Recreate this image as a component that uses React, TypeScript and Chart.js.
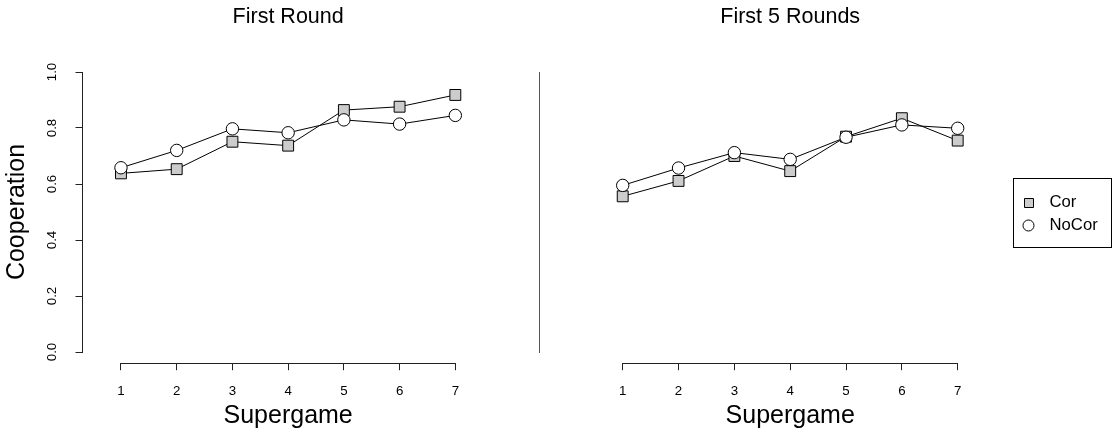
import React, { useEffect, useRef } from 'react';
import { Chart, registerables } from 'chart.js';

Chart.register(...registerables);

// ---- Data ----
const supergames = [1, 2, 3, 4, 5, 6, 7];
const firstRoundCor = [0.638, 0.653, 0.751, 0.737, 0.864, 0.876, 0.918];
const firstRoundNoCor = [0.658, 0.72, 0.797, 0.783, 0.829, 0.814, 0.845];
const first5Cor = [0.556, 0.611, 0.7, 0.646, 0.769, 0.835, 0.755];
const first5NoCor = [0.595, 0.657, 0.712, 0.688, 0.767, 0.811, 0.799];
const yTickValues = [0, 0.2, 0.4, 0.6, 0.8, 1.0];
const yTickLabels = ['0.0', '0.2', '0.4', '0.6', '0.8', '1.0'];
const seriesNames = ['Cor', 'NoCor'];
const panelTitles = ['First Round', 'First 5 Rounds'];
const xAxisTitle = 'Supergame';
const yAxisTitle = 'Cooperation';

const FONT = "'Liberation Sans', Arial, Helvetica, sans-serif";
const COR_FILL = '#cccccc';
const NOCOR_FILL = '#ffffff';
const INK = '#000000';

const toPoints = (vals: number[]) => supergames.map((s, i) => ({ x: s, y: vals[i] }));

// R-style axes, separator line and boxed legend
const rAxesPlugin = {
  id: 'rAxes',
  afterDraw(chart: any, _args: any, opts: any) {
    const { ctx, chartArea } = chart;
    const xs = chart.scales.x;
    const ys = chart.scales.y;
    const px = (v: number) => Math.round(v - 0.5) + 0.5;
    ctx.save();
    ctx.strokeStyle = opts.axisColor;
    ctx.lineWidth = 1;

    // x axis line from first to last tick
    const xb = px(chartArea.bottom);
    ctx.beginPath();
    ctx.moveTo(px(xs.getPixelForValue(supergames[0])) - 0.5, xb);
    ctx.lineTo(px(xs.getPixelForValue(supergames[supergames.length - 1])) + 0.5, xb);
    ctx.stroke();

    if (opts.yAxis) {
      const ax = px(chartArea.left - opts.yAxis.offset);
      const yTop = ys.getPixelForValue(yTickValues[yTickValues.length - 1]);
      const yBot = ys.getPixelForValue(yTickValues[0]);
      ctx.beginPath();
      ctx.moveTo(ax, px(yBot) + 0.5);
      ctx.lineTo(ax, px(yTop) - 0.5);
      ctx.stroke();
      ctx.beginPath();
      yTickValues.forEach((v) => {
        const y = px(ys.getPixelForValue(v));
        ctx.moveTo(ax - opts.yAxis.tickLength, y);
        ctx.lineTo(ax, y);
      });
      ctx.stroke();
      ctx.fillStyle = INK;
      ctx.font = `${opts.yAxis.fontSize}px ${FONT}`;
      ctx.textAlign = 'center';
      ctx.textBaseline = 'middle';
      yTickValues.forEach((v, i) => {
        const y = ys.getPixelForValue(v);
        ctx.save();
        ctx.translate(ax - opts.yAxis.labelOffset, y);
        ctx.rotate(-Math.PI / 2);
        ctx.fillText(yTickLabels[i], 0, 0);
        ctx.restore();
      });
    }

    if (opts.separator) {
      const sx = px(chartArea.left - opts.separator.offset);
      ctx.strokeStyle = opts.separator.color;
      ctx.beginPath();
      ctx.moveTo(sx, px(ys.getPixelForValue(yTickValues[0])) + 0.5);
      ctx.lineTo(sx, px(ys.getPixelForValue(yTickValues[yTickValues.length - 1])) - 0.5);
      ctx.stroke();
    }

    if (opts.legend) {
      const L = opts.legend;
      const cy = (chartArea.top + chartArea.bottom) / 2;
      const bx = Math.round(chartArea.right + L.offset) + 0.5;
      const by = Math.round(cy - L.height / 2) + 0.5;
      ctx.strokeStyle = INK;
      ctx.strokeRect(bx, by, L.width, L.height);
      ctx.font = `${L.fontSize}px ${FONT}`;
      ctx.textAlign = 'left';
      ctx.textBaseline = 'middle';
      chart.data.datasets.forEach((ds: any, i: number) => {
        const ry = by + L.firstRow + i * L.rowGap;
        const sxm = bx + L.symbolX;
        ctx.fillStyle = ds.pointBackgroundColor;
        ctx.strokeStyle = ds.pointBorderColor;
        ctx.beginPath();
        if (ds.pointStyle === 'rect') {
          const h = L.squareSize / 2;
          ctx.rect(Math.round(sxm - h) + 0.5, Math.round(ry - h) + 0.5, L.squareSize, L.squareSize);
        } else {
          ctx.arc(sxm, ry, L.circleRadius, 0, Math.PI * 2);
        }
        ctx.fill();
        ctx.stroke();
        ctx.fillStyle = INK;
        ctx.fillText(ds.label, bx + L.textX, ry);
      });
    }
    ctx.restore();
  },
};

const xRange = [supergames[0], supergames[supergames.length - 1]];
const xPad = (xRange[1] - xRange[0]) * 0.04;
const yRange = [yTickValues[0], yTickValues[yTickValues.length - 1]];
const yPad = (yRange[1] - yRange[0]) * 0.04;

function makeConfig(cor: number[], noCor: number[], title: string, isLeft: boolean): any {
  return {
    type: 'line',
    data: {
      datasets: [
        {
          label: seriesNames[0],
          data: toPoints(cor),
          borderColor: INK,
          borderWidth: 1,
          pointStyle: 'rect',
          pointRadius: 7.7,
          pointBackgroundColor: COR_FILL,
          pointBorderColor: INK,
          pointBorderWidth: 1,
          order: 2,
          clip: false,
        },
        {
          label: seriesNames[1],
          data: toPoints(noCor),
          borderColor: INK,
          borderWidth: 1,
          pointStyle: 'circle',
          pointRadius: 6.2,
          pointBackgroundColor: NOCOR_FILL,
          pointBorderColor: INK,
          pointBorderWidth: 1,
          order: 1,
          clip: false,
        },
      ],
    },
    options: {
      animation: false,
      responsive: false,
      devicePixelRatio: 1,
      events: [],
      layout: {
        padding: { left: isLeft ? 0 : 79.3, right: isLeft ? 61.3 : 142.9, top: 0, bottom: 0 },
      },
      plugins: {
        legend: { display: false },
        tooltip: { enabled: false },
        title: {
          display: true,
          text: title,
          fullSize: false,
          color: INK,
          font: { family: FONT, size: 21.5, weight: 'normal' },
          padding: { top: 4.6, bottom: 30.4 },
        },
        rAxes: {
          axisColor: '#222222',
          yAxis: isLeft ? { offset: 25.5, tickLength: 7, labelOffset: 30, fontSize: 13.3 } : null,
          separator: isLeft ? null : { offset: 70.3, color: '#555555' },
          legend: isLeft
            ? null
            : {
                offset: 41.9,
                width: 98,
                height: 69,
                fontSize: 16.7,
                firstRow: 23.7,
                rowGap: 23.3,
                symbolX: 15,
                textX: 36,
                squareSize: 9,
                circleRadius: 5.5,
              },
        },
      },
      scales: {
        x: {
          type: 'linear',
          min: xRange[0] - xPad,
          max: xRange[1] + xPad,
          afterBuildTicks: (s: any) => {
            s.ticks = supergames.map((v) => ({ value: v }));
          },
          afterFit: (s: any) => {
            s.height = 72.8;
          },
          grid: {
            display: true,
            drawOnChartArea: false,
            drawTicks: true,
            tickLength: 7,
            color: '#222222',
            lineWidth: 1,
          },
          border: { display: false },
          ticks: {
            padding: 13,
            color: INK,
            maxRotation: 0,
            autoSkip: false,
            font: { family: FONT, size: 13.3 },
            callback: (v: any) => String(v),
          },
          title: {
            display: true,
            text: xAxisTitle,
            color: INK,
            font: { family: FONT, size: 25 },
            padding: { top: 0, bottom: 5 },
          },
        },
        y: {
          type: 'linear',
          display: isLeft,
          min: yRange[0] - yPad,
          max: yRange[1] + yPad,
          afterFit: (s: any) => {
            s.width = isLeft ? 107.6 : 0;
          },
          ticks: { display: false },
          grid: { display: false },
          border: { display: false },
          title: {
            display: isLeft,
            text: yAxisTitle,
            color: INK,
            font: { family: FONT, size: 25 },
            padding: { top: 2, bottom: 0 },
          },
        },
      },
    },
    plugins: [rAxesPlugin],
  };
}

export default function App() {
  const leftRef = useRef<HTMLCanvasElement | null>(null);
  const rightRef = useRef<HTMLCanvasElement | null>(null);

  useEffect(() => {
    const c1 = new Chart(leftRef.current as HTMLCanvasElement, makeConfig(firstRoundCor, firstRoundNoCor, panelTitles[0], true));
    const c2 = new Chart(rightRef.current as HTMLCanvasElement, makeConfig(first5Cor, first5NoCor, panelTitles[1], false));
    return () => {
      c1.destroy();
      c2.destroy();
    };
  }, []);

  return (
    <div style={{ position: 'fixed', left: 0, top: 0, width: 1114, height: 436, background: '#ffffff' }}>
      <canvas ref={leftRef} width={530} height={436} style={{ position: 'absolute', left: 0, top: 0, width: 530, height: 436 }} />
      <canvas ref={rightRef} width={584} height={436} style={{ position: 'absolute', left: 530, top: 0, width: 584, height: 436 }} />
    </div>
  );
}
